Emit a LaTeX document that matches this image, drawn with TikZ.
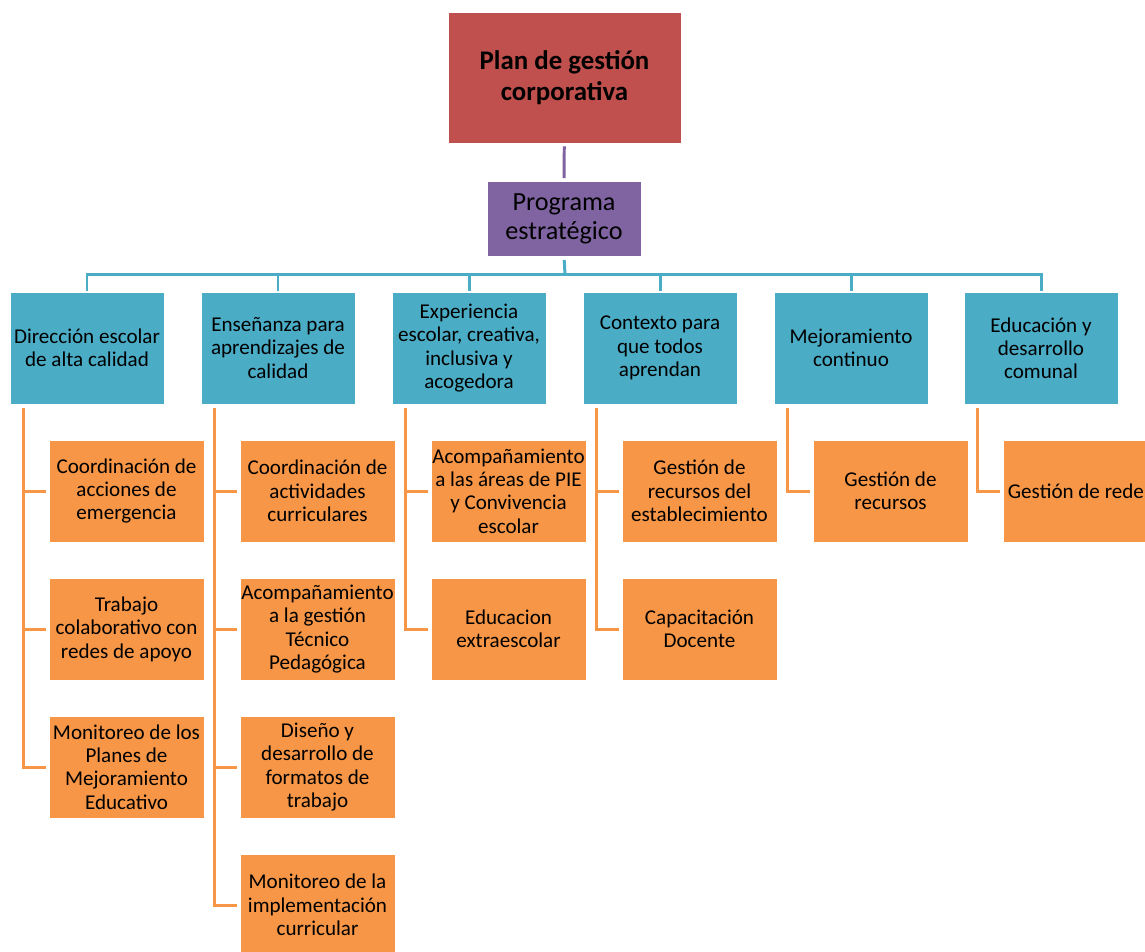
\documentclass[tikz,border=0pt]{standalone}
\usepackage{fontspec}
\setmainfont{Carlito}
\definecolor{planred}{HTML}{C0504D}
\definecolor{progpurple}{HTML}{8064A2}
\definecolor{areablue}{HTML}{4BACC6}
\definecolor{taskorange}{HTML}{F79646}
\begin{document}
\begin{tikzpicture}[x=0.02cm, y=-0.02cm,
    box/.style={rectangle, draw=white, line width=0.5pt, align=center, inner sep=0.3pt},
    plan/.style={box, fill=planred, minimum width=4.66cm, minimum height=2.62cm,
                 font=\fontsize{15.3}{17.6}\selectfont\bfseries},
    programa/.style={box, fill=progpurple, minimum width=3.08cm, minimum height=1.5cm,
                 font=\fontsize{14.9}{16.4}\selectfont},
    area/.style={box, fill=areablue, minimum width=3.08cm, minimum height=2.24cm,
                 font=\fontsize{12}{13.2}\selectfont},
    task/.style={box, fill=taskorange, minimum width=3.1cm, minimum height=2.04cm,
                 font=\fontsize{12}{13.3}\selectfont},
    link/.style={line width=1.7pt}]
  \clip (0,0) rectangle (1145,951);
  % the plan and its strategic programme
  \node[plan]     (plan) at (564.5,77.5) {Plan de gestión\\corporativa};
  \node[programa] (prog) at (564,219)    {Programa\\estratégico};
  \coordinate (bus) at (565,274);

  % six areas of the programme, one column each
  \foreach \n/\x/\t in {1/87/{Dirección escolar\\de alta calidad},
                        2/278/{Enseñanza para\\aprendizajes de\\calidad},
                        3/469/{Experiencia\\escolar, creativa,\\inclusiva y\\acogedora},
                        4/660/{Contexto para\\que todos\\aprendan},
                        5/851/{Mejoramiento\\continuo},
                        6/1041/{Educación y\\desarrollo\\comunal}}
    \node[area] (a\n) at (\x,348) {\t};

  % tasks under each area: column, row, text
  \foreach \n/\k/\t in {1/1/{Coordinación de\\acciones de\\emergencia},
                        1/2/{Trabajo\\colaborativo con\\redes de apoyo},
                        1/3/{Monitoreo de los\\Planes de\\Mejoramiento\\Educativo},
                        2/1/{Coordinación de\\actividades\\curriculares},
                        2/2/{Acompañamiento\\a la gestión\\Técnico\\Pedagógica},
                        2/3/{Diseño y\\desarrollo de\\formatos de\\trabajo},
                        2/4/{Monitoreo de la\\implementación\\curricular},
                        3/1/{Acompañamiento\\a las áreas de PIE\\y Convivencia\\escolar},
                        3/2/{Educacion\\extraescolar},
                        4/1/{Gestión de\\recursos del\\establecimiento},
                        4/2/{Capacitación\\Docente},
                        5/1/{Gestión de\\recursos}}
    \node[task] (t\n\k) at ({126.5+191*(\n-1)}, {491+138*(\k-1)}) {\t};
  % last box runs past the right edge
  \node[task] (t61) at (1080.5,491) {};
  \node[anchor=west, inner sep=0pt, font=\fontsize{12}{13.3}\selectfont]
    (t61txt) at ([xshift=0.1cm]t61.west) {Gestión de rede};

  % connectors
  \draw[link, progpurple, shorten <=0.06cm, shorten >=0.06cm] (plan) -- (prog);
  \draw[link, areablue, shorten <=0.06cm] (prog.south) -- (bus);
  \foreach \n in {1,...,6}
    \draw[link, areablue, shorten >=0.02cm] (bus) -| (a\n.north);
  \foreach \n/\k in {1/1,1/2,1/3,2/1,2/2,2/3,2/4,3/1,3/2,4/1,4/2,5/1,6/1}
    \draw[link, taskorange, shorten <=0.08cm, shorten >=0.06cm]
      ([xshift=0.28cm]a\n.south west) |- (t\n\k.west);
\end{tikzpicture}
\end{document}
